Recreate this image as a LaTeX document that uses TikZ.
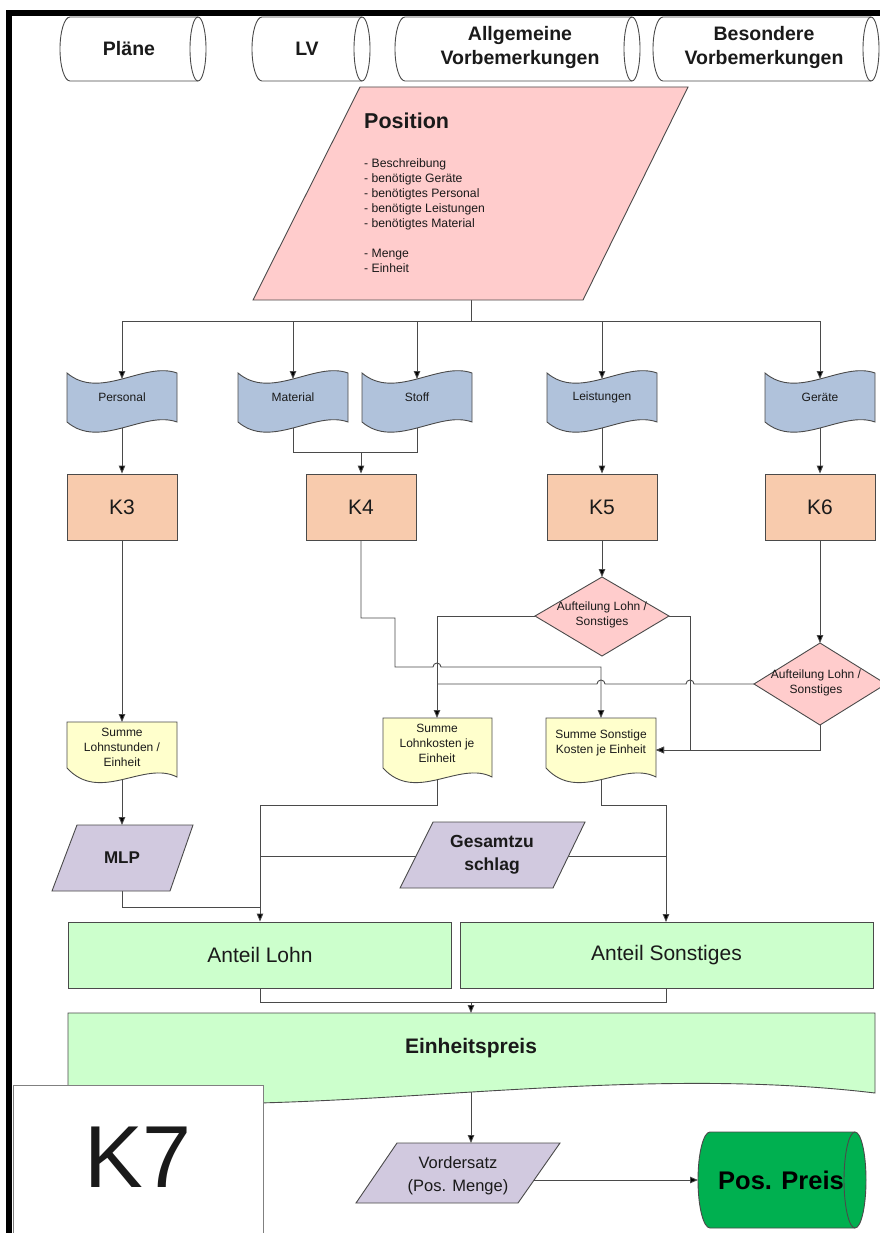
\documentclass[tikz,border=0pt]{standalone}
\usepackage{fontspec}
\setmainfont{Liberation Sans}
\usetikzlibrary{arrows.meta}
\pgfdeclarelayer{bg}
\pgfsetlayers{bg,main}
\definecolor{pinkf}{HTML}{FFCCCC}
\definecolor{bluef}{HTML}{B0C2DB}
\definecolor{peachf}{HTML}{F8CBAD}
\definecolor{yellowf}{HTML}{FFFFCC}
\definecolor{purplef}{HTML}{D1C9DF}
\definecolor{greenf}{HTML}{CCFFCC}
\definecolor{dgreenf}{HTML}{00B050}
\definecolor{bordc}{HTML}{4A4A4A}
\definecolor{linec}{HTML}{4A4A4A}
\definecolor{txtc}{HTML}{1A1A1A}
\tikzset{
  shp/.style={draw=bordc, line width=0.9pt},
  conn/.style={draw=linec, line width=0.9pt},
  arr/.style={conn, -{Triangle[length=8pt,width=6.5pt,fill=black]}},
  lbl/.style={text=txtc, inner sep=0pt, align=center},
  fs/.style 2 args={font=\fontsize{#1}{#2}\selectfont},
  fsb/.style 2 args={font=\fontsize{#1}{#2}\selectfont\bfseries},
  kbox/.style={shp, fill=peachf, minimum width=110pt, minimum height=66pt, inner sep=0pt, text=txtc, font=\fontsize{21}{25}\selectfont},
  gbox/.style={shp, fill=greenf, minimum height=66pt, inner sep=0pt, text=txtc, font=\fontsize{21}{25}\selectfont},
}
% horizontal cylinder: fill, x top-left, x ellipse centre, y top, y bottom, left depth, right rx, ry
\newcommand\cylH[8]{%
  \path[shp,fill=#1] (#2,#4) -- (#3,#4) arc[start angle=90,end angle=-90,x radius=#7pt,y radius=#8pt]
     -- (#2,#5) arc[start angle=270,end angle=90,x radius=#6pt,y radius=#8pt] -- cycle;
  \draw[shp] (#3,#4) arc[start angle=90,end angle=270,x radius=#7pt,y radius=#8pt];}
% tape: fill, x0, x1, y top corner, y bottom corner
\newcommand\tapeS[5]{%
  \pgfmathsetmacro\tca{#2+0.3*(#3-#2)}\pgfmathsetmacro\tcb{#2+0.7*(#3-#2)}%
  \path[shp,fill=#1] (#2,#4) .. controls (\tca,#4+28) and (\tcb,#4-12) .. (#3,#4)
     -- (#3,#5) .. controls (\tcb,#5-12) and (\tca,#5+28) .. (#2,#5) -- cycle;}
% document: fill, x0, x1, y top, y left bottom corner
\newcommand\docS[5]{%
  \pgfmathsetmacro\tca{#2+0.3*(#3-#2)}\pgfmathsetmacro\tcb{#2+0.7*(#3-#2)}%
  \path[shp,fill=#1] (#2,#4) -- (#3,#4) -- (#3,#5+9) .. controls (\tcb,#5-8) and (\tca,#5+36) .. (#2,#5) -- cycle;}
\begin{document}
\begin{tikzpicture}[x=1pt,y=-1pt]
\useasboundingbox (0,0) rectangle (879,1233);
\begin{pgfonlayer}{bg}
\fill[white] (0,0) rectangle (879,1233);
\end{pgfonlayer}
% frame
\draw[line width=6pt] (8.5,1240) -- (8.5,13) -- (890,13);
% top cylinders
\cylH{white}{70}{198}{17}{81}{10}{8}{32}
\cylH{white}{262}{362}{17}{81}{10}{8}{32}
\cylH{white}{405}{632}{17}{81}{10}{8}{32}
\cylH{white}{663}{871}{17}{81}{10}{8}{32}
\node[lbl,fsb={19.5}{24}] (plaene) at (129,49) {Pläne};
\node[lbl,fsb={19.5}{24}] (lv) at (307,49) {LV};
\node[lbl,fsb={19.5}{24}] (allg) at (520,48) {Allgemeine\\Vorbemerkungen};
\node[lbl,fsb={19.5}{24}] (bes) at (764,48) {Besondere\\Vorbemerkungen};
% position
\path[shp,fill=pinkf] (360,87) -- (688,87) -- (583,300) -- (253,300) -- cycle;
\node[lbl,anchor=west,fsb={21.5}{25}] (postitle) at (364,121) {Position};
\node[lbl,anchor=north west,align=left,fs={12.2}{15}] (poslist) at (364,158.5)
  {- Beschreibung\\- benötigte Geräte\\- benötigtes Personal\\- benötigte Leistungen\\- benötigtes Material\\[15pt]- Menge\\- Einheit};
\coordinate (pos-s) at (471,296);
% tapes
\tapeS{bluef}{67}{177}{373}{422}
\tapeS{bluef}{238}{348}{373}{422}
\tapeS{bluef}{362}{472}{373}{422}
\tapeS{bluef}{547}{657}{373}{422}
\tapeS{bluef}{765}{875}{373}{422}
\node[lbl,fs={12}{14}] (per) at (122,397) {Personal};
\node[lbl,fs={12}{14}] (mat) at (293,397) {Material};
\node[lbl,fs={12}{14}] (sto) at (417,397) {Stoff};
\node[lbl,fs={12}{14}] (lei) at (602,397) {Leistungen};
\node[lbl,fs={12}{14}] (ger) at (820,397) {Geräte};
\foreach \n/\x in {per/122,mat/293,sto/417,lei/602,ger/820}{
  \coordinate (\n-n) at (\x,379); \coordinate (\n-s) at (\x,424);}
% K boxes
\node[kbox] (k3) at (122,507) {K3};
\node[kbox] (k4) at (361,507) {K4};
\node[kbox] (k5) at (602,507) {K5};
\node[kbox] (k6) at (820,507) {K6};
% diamonds
\path[shp,fill=pinkf] (602,577) -- (669,616) -- (602,656) -- (535,616) -- cycle;
\node[lbl,fs={12}{14.5}] (d1) at (602,615) {Aufteilung Lohn /\\Sonstiges};
\coordinate (d1-n) at (602,577); \coordinate (d1-w) at (535,616); \coordinate (d1-e) at (669,616);
\path[shp,fill=pinkf] (820,643) -- (886,684) -- (820,725) -- (754,684) -- cycle;
\node[lbl,fs={12}{14.5}] (d2) at (816,683) {Aufteilung Lohn /\\Sonstiges};
\coordinate (d2-n) at (820,643); \coordinate (d2-w) at (754,684); \coordinate (d2-s) at (820,720);
% documents
\docS{yellowf}{67}{177}{722}{768}
\docS{yellowf}{383}{492}{718}{768}
\docS{yellowf}{546}{656}{718}{768}
\node[lbl,fs={12}{15}] (lst) at (122,747) {Summe\\Lohnstunden /\\Einheit};
\node[lbl,fs={12}{15}] (lko) at (437,743) {Summe\\Lohnkosten je\\Einheit};
\node[lbl,fs={12}{15}] (son) at (601,743) {Summe Sonstige\\Kosten je Einheit};
\coordinate (lst-n) at (122,722); \coordinate (lst-s) at (122,775);
\coordinate (lko-n) at (437,718); \coordinate (lko-s) at (437,775);
\coordinate (son-n) at (601,718); \coordinate (son-s) at (601,775); \coordinate (son-e) at (656,750);
% MLP and Gesamtzuschlag
\path[shp,fill=purplef] (77,825) -- (193,825) -- (170,891) -- (52,891) -- cycle;
\node[lbl,fsb={17}{21}] (mlp) at (122,858) {MLP};
\coordinate (mlp-n) at (122,825); \coordinate (mlp-s) at (122,888);
\path[shp,fill=purplef] (433,822) -- (585,822) -- (553,888) -- (400,888) -- cycle;
\node[lbl,fsb={17.5}{23}] (ges) at (492,855) {Gesamtzu\\schlag};
\coordinate (ges-w) at (420,856); \coordinate (ges-e) at (565,856);
% Anteil boxes
\node[gbox,minimum width=383pt] (al) at (260,955) {Anteil Lohn};
\node[gbox,minimum width=413pt] (as) at (666.5,955) {Anteil Sonstiges};
% Einheitspreis
\path[shp,fill=greenf] (68,1013) -- (875,1013) -- (875,1093) .. controls (600,1060) and (300,1125) .. (68,1096) -- cycle;
\node[lbl,fsb={21}{24}] (ep) at (471,1048) {Einheitspreis};
\coordinate (ep-n) at (471,1013); \coordinate (ep-s) at (471,1088);
% K7
\path[draw=bordc!70,line width=1pt,fill=white] (13,1240) -- (13,1085) -- (263,1085) -- (263,1240);
\node[lbl,fs={88}{90}] (k7) at (138,1157) {K7};
% Vordersatz
\path[shp,fill=purplef] (397,1143) -- (560,1143) -- (518,1203) -- (356,1203) -- cycle;
\node[lbl,fs={16.5}{23}] (vs) at (458,1176) {Vordersatz\\(Pos. Menge)};
\coordinate (vs-n) at (471,1143); \coordinate (vs-e) at (534,1180);
% Pos. Preis
\cylH{dgreenf}{710}{855}{1132}{1228}{12}{11}{48}
\node[lbl,fsb={25.5}{28},text=black] (pp) at (781,1180) {Pos. Preis};
\coordinate (pp-w) at (698,1180);
% connectors
\begin{pgfonlayer}{bg}
\coordinate (bus) at (471,321);
\draw[conn] (pos-s) -- (bus);
\draw[conn] (bus -| per-n) -- (bus -| ger-n);
\foreach \n in {per,mat,sto,lei,ger}{\draw[arr] (bus -| \n-n) -- (\n-n);}
\draw[arr] (per-s) -- (k3.north);
\draw[conn] (mat-s) -- (293,452) -- (417,452) -- (sto-s);
\draw[arr] (361,452) -- (k4.north);
\draw[arr] (lei-s) -- (k5.north);
\draw[arr] (ger-s) -- (k6.north);
\draw[arr] (k3.south) -- (lst-n);
\draw[arr] (k4.south) -- (361,618) -- (395,618) -- (395,667) -- (433,667) arc[start angle=180,end angle=0,radius=4pt] -- (601,667) -- (son-n);
\draw[arr] (k5.south) -- (d1-n);
\draw[arr] (d1-w) -- (437,616) -- (lko-n);
\draw[arr] (d1-e) -- (690,616) -- (690,750) -- (son-e);
\draw[arr] (k6.south) -- (d2-n);
\draw[conn] (d2-w) -- (694,684) arc[start angle=0,end angle=180,radius=4pt] -- (605,684) arc[start angle=0,end angle=180,radius=4pt] -- (437,684);
\draw[arr] (d2-s) -- (820,750) -- (son-e);
\draw[arr] (lst-s) -- (mlp-n);
\draw[conn] (mlp-s) -- (122,907) -- (260,907);
\draw[arr] (lko-s) -- (437,805) -- (260,805) -- (al.north);
\draw[conn] (ges-w) -- (260,856);
\draw[conn] (ges-e) -- (666,856);
\draw[arr] (son-s) -- (601,805) -- (666,805) -- (666,922);
\draw[conn] (al.south) -- (260,1002) -- (666,1002) -- (666,988);
\draw[arr] (471,1002) -- (ep-n);
\draw[arr] (ep-s) -- (vs-n);
\draw[arr] (vs-e) -- (pp-w);
\end{pgfonlayer}
\end{tikzpicture}
\end{document}
